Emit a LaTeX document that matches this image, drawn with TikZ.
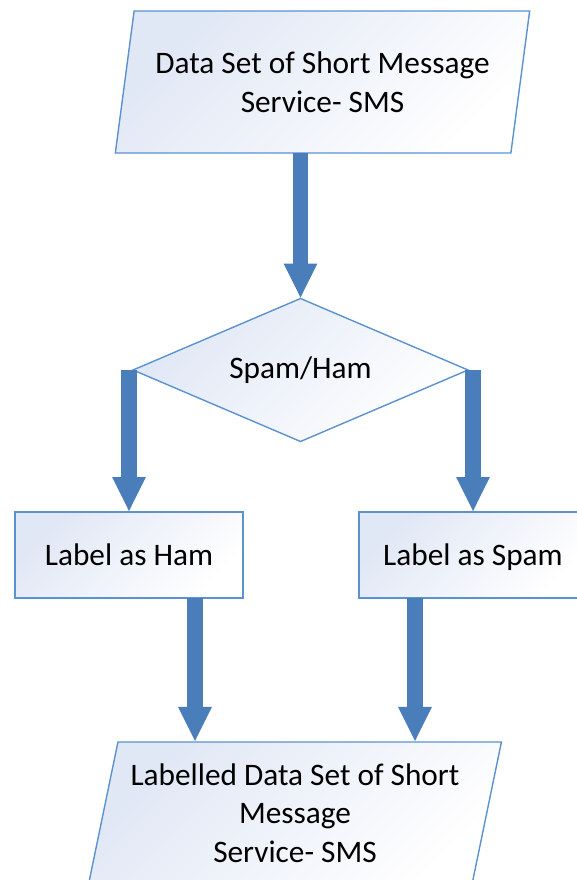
\documentclass[tikz,border=0pt]{standalone}
\usepackage{fontspec}
\setmainfont{Carlito}
\usetikzlibrary{shapes.geometric,arrows.meta}
\definecolor{edgeblue}{RGB}{91,146,208}
\definecolor{flowblue}{RGB}{74,126,187}
\definecolor{tint}{RGB}{224,231,245}
\begin{document}
\begin{tikzpicture}[x=1pt,y=-1pt,
  every node/.style={font=\fontsize{31.3}{38.5}\selectfont, outer sep=0pt, inner sep=0pt},
  shapebase/.style={draw=edgeblue, line width=1.4pt, top color=tint, bottom color=white, shading angle=45},
  procbox/.style={shapebase, rectangle, minimum width=228pt, minimum height=86pt, text height=22pt, text depth=1pt},
  iobox/.style={shapebase, trapezium, trapezium left angle=74.6, trapezium right angle=105.4,
    trapezium stretches=true, minimum width=415pt, minimum height=142pt, align=center},
  decide/.style={shapebase, diamond, shape aspect=2.343, minimum width=335pt, minimum height=143pt,
    text height=22pt, text depth=6pt},
  flow/.style={draw=flowblue, line width=15.5pt, -{Triangle[length=35pt,width=31pt]}}
]
\useasboundingbox (0,0) rectangle (577,880);
\clip (0,0) rectangle (577,880);
\fill[white] (0,0) rectangle (577,880);

% flowchart shapes
\node[iobox] (src) at (322.5,82) {Data Set of Short Message\\Service- SMS};
\node[decide] (dec) at (300.5,370) {Spam/Ham};
\node[procbox] (ham) at (129,555) {Label as Ham};
\node[procbox] (spam) at (473,555) {Label as Spam};
\node[iobox] (out) at (295,813) {Labelled Data Set of Short\\Message\\Service- SMS};

% connectors
\draw[flow] (dec.north |- src.south) -- (dec.north);
\draw[flow] (ham.north |- dec.west) -- (ham.north);
\draw[flow] (spam.north |- dec.east) -- (spam.north);
\coordinate (hamOut) at ([xshift=66pt]ham.south);
\coordinate (spamOut) at ([xshift=-58pt]spam.south);
\draw[flow] (hamOut) -- (hamOut |- out.north);
\draw[flow] (spamOut) -- (spamOut |- out.north);
\end{tikzpicture}
\end{document}
